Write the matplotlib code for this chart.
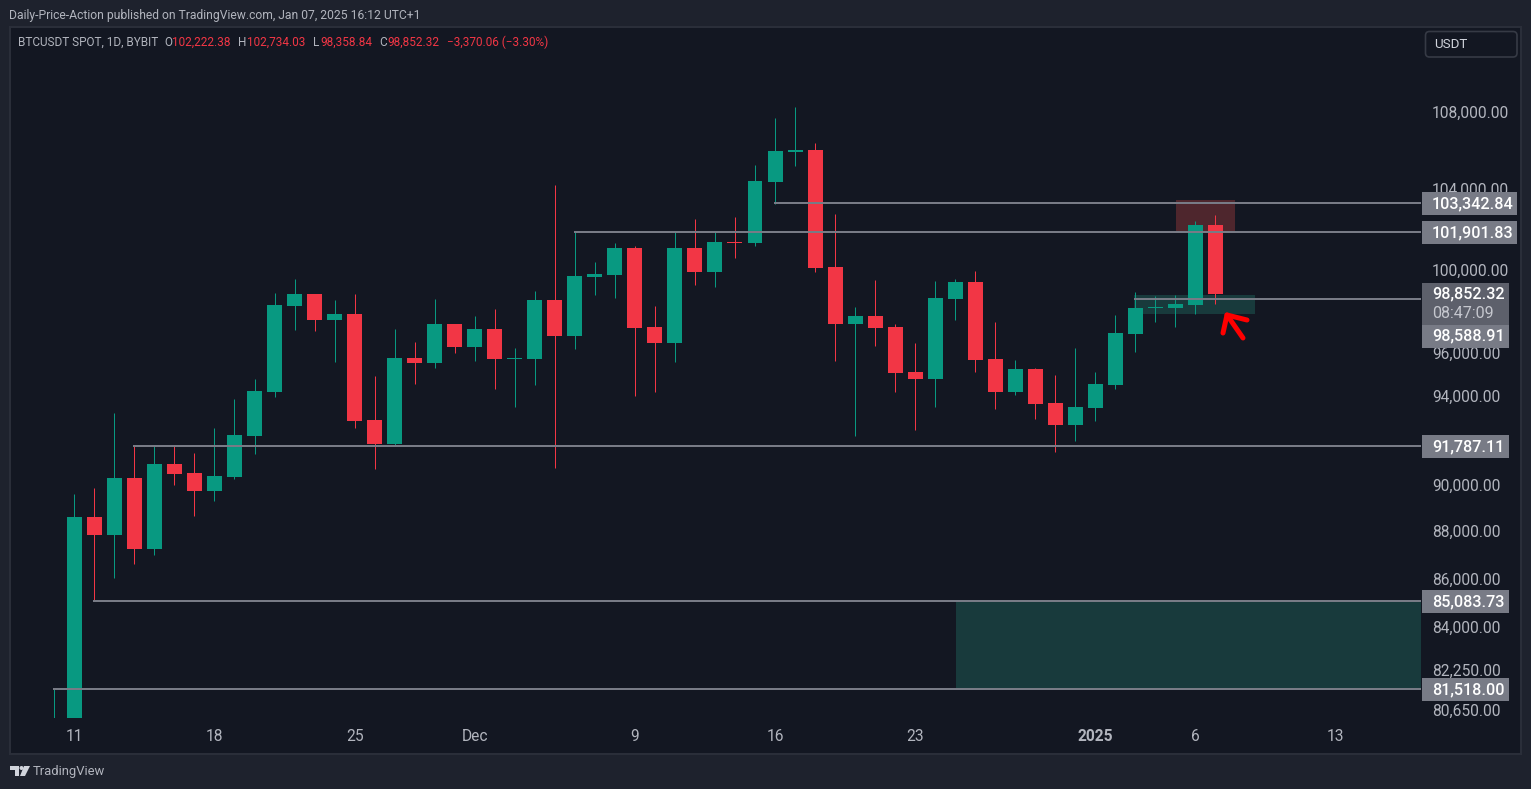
import numpy as np
import pandas as pd
import matplotlib
matplotlib.use("Agg")
import matplotlib.pyplot as plt
from matplotlib.patches import Rectangle, Polygon, FancyBboxPatch
from matplotlib.lines import Line2D
from matplotlib.ticker import NullLocator
from matplotlib.transforms import Affine2D

opens = [76700, 80250, 88661, 87886, 90363, 87283, 90980, 90583, 89790, 90407, 92230, 94227,
         98259, 98836, 97595, 97879, 92953, 91868, 95801, 95569, 97405, 96313, 97168, 95754,
         95754, 98544, 96836, 99662, 99759, 101074, 97263, 96503, 101074, 99905, 101374, 101323,
         104383, 105966, 106069, 100148, 97405, 97785, 97263, 95153, 94829, 98593, 99419, 95754,
         94227, 95291, 93721, 92727, 93496, 94551, 96931, 98164, 98164, 98307, 102222.38]
highs = [81518, 89657, 89922, 93269, 91787, 91823, 91787, 91465, 92592, 93904, 94829, 98885,
         99565, 98860, 98544, 98836, 94968, 97168, 96551, 98593, 97430, 97785, 98117, 96266,
         98982, 104230, 101900, 100391, 101323, 101174, 98259, 101900, 102519, 101900, 102618, 105302,
         107743, 108318, 106435, 102768, 98212, 99516, 97405, 96503, 99468, 99565, 99954, 97500,
         95708, 95338, 95014, 96266, 95153, 97832, 98933, 98738, 98787, 102419, 102734.03]
lows = [76500, 80200, 85083, 86064, 86652, 87030, 90054, 88704, 89350, 90318, 91421, 93996,
        97120, 97070, 95615, 92592, 90760, 91787, 94598, 95338, 96032, 95662, 94366, 93541,
        94551, 90804, 96218, 98787, 98641, 94042, 94227, 95615, 99273, 99176, 100585, 101174,
        103316, 105251, 99905, 95662, 92230, 96361, 94227, 92501, 93541, 97595, 95153, 93450,
        94088, 92998, 91509, 92004, 92908, 94366, 96078, 97500, 97263, 97879, 98358.84]
closes = [80250, 88661, 87886, 90363, 87283, 90980, 90539, 89790, 90451, 92275, 94274, 98307,
          98836, 97595, 97879, 92908, 91868, 95801, 95569, 97405, 96313, 97168, 95754, 95801,
          98544, 96836, 99711, 99808, 101074, 97215, 96503, 101074, 99905, 101374, 101323, 104434,
          106017, 106069, 100099, 97405, 97785, 97215, 95106, 94829, 98641, 99419, 95708, 94227,
          95291, 93676, 92727, 93541, 94598, 96978, 98164, 98212, 98354, 102222, 98852.32]

price_ticks = [108000, 104000, 100000, 96000, 94000, 90000, 88000, 86000, 84000, 82250, 80650]
time_ticks = [1, 8, 15, 21, 29, 36, 43, 52, 57, 64]
time_labels = ["11", "18", "25", "Dec", "9", "16", "23", "2025", "6", "13"]

levels = [103342.84, 101901.83, 98588.91, 91787.11, 85083.73, 81518.00]
level_starts = [36, 26, 54, 4, 2, 0]
current_price = 98852.32

W, H = 1531, 789
BG, PANE, BORDER = "#1e222d", "#131722", "#2a2e39"
UP, DOWN, LEVEL = "#089981", "#f23645", "#787b86"
TXT = "#b2b5be"
plt.rcParams["font.family"] = ["Roboto", "DejaVu Sans"]

fig = plt.figure(figsize=(W / 100, H / 100), dpi=100, facecolor=BG)


def px_rect(x0, y0, x1, y1, **kw):
    r = Rectangle((x0, H - y1), x1 - x0, y1 - y0, transform=None, **kw)
    fig.add_artist(r)
    return r


def px_text(x, y, s, **kw):
    kw.setdefault("va", "center")
    return fig.text(x / W, 1 - y / H, s, **kw)


px_rect(9, 26, 1522, 755, fc=BORDER, ec="none", zorder=-3)
px_rect(11, 28, 1520, 753, fc=PANE, ec="none", zorder=-2)

ax = fig.add_axes([11 / W, 1 - 718 / H, (1421 - 11) / W, (718 - 28) / H], facecolor=PANE)
for s in ax.spines.values():
    s.set_visible(False)

x = np.arange(len(closes))
dates = pd.date_range("2024-11-10", periods=len(closes))
opens, highs, lows, closes = map(np.array, (opens, highs, lows, closes))
colors = [UP if c >= o else DOWN for o, c in zip(opens, closes)]

ax.set_yscale("log")
ax.set_xlim((11 - 54.3) / 20.02, (1421 - 54.3) / 20.02)
ax.set_ylim(80375, 112557)

bar_w = 15 / 20.02
ax.vlines(x, lows, highs, colors=colors, lw=0.72, zorder=3)
ax.bar(x, np.abs(closes - opens), bottom=np.minimum(opens, closes), width=bar_w,
       color=colors, linewidth=0, zorder=4)

ax.set_yticks(price_ticks)
ax.set_yticklabels([f"{p:,.2f}" for p in price_ticks])
ax.yaxis.set_minor_locator(NullLocator())
ax.yaxis.tick_right()
ax.tick_params(axis="y", length=0, pad=8, labelsize=11.2, labelcolor=TXT)
ax.set_xticks(time_ticks)
ax.set_xticklabels(time_labels)
ax.tick_params(axis="x", length=0, pad=8, labelsize=11.2, labelcolor=TXT)
for lb in ax.get_xticklabels():
    if lb.get_text() == "2025":
        lb.set_fontweight("bold")
for t in ax.yaxis.get_major_ticks():
    t.label2.set_transform(t.label2.get_transform() + Affine2D().translate(0, 1.0))

# zones
ax.add_patch(Rectangle((56.03, 101901.83), 2.95, 103494 - 101901.83, fc="#4e262d", ec="none", zorder=1))
ax.add_patch(Rectangle((53.93, 97879), 6.04, 98787 - 97879, fc="#183a3c", ec="none", zorder=1))
ax.add_patch(Rectangle((45.04, 81518), 23.3, 85138 - 81518, fc="#183a3c", ec="none", zorder=1))

# horizontal levels
for lv, st in zip(levels, level_starts):
    ax.hlines(lv, st - 0.05, ax.get_xlim()[1], colors=LEVEL, lw=1.45, zorder=5)

# axis labels
fig.canvas.draw()


def ypx(price):
    return H - ax.transData.transform((0, price))[1]


boxes = [(103342.84, 1517), (101901.83, 1517), (91787.11, 1509), (85083.73, 1509), (81518.00, 1509)]
for p, xr in boxes:
    yc = ypx(p)
    px_rect(1422, yc - 11, xr, yc + 12, fc=LEVEL, ec="none", zorder=6)
    px_text(1432, yc + 1, f"{p:,.2f}", color="white", fontsize=11.6, zorder=7, fontweight="medium")

yc = ypx(current_price)
px_rect(1422, 283, 1509, 325, fc="#5d606b", ec="none", zorder=6)
px_text(1432, 294, f"{current_price:,.2f}", color="white", fontsize=11.6, zorder=7, fontweight="medium")
px_text(1432, 313, "08:47:09", color="#c5c7ce", fontsize=11.6, zorder=7)
px_rect(1422, 325, 1509, 348, fc=LEVEL, ec="none", zorder=6)
px_text(1432, 336, "98,588.91", color="white", fontsize=11.6, zorder=7, fontweight="medium")

# arrow
arrow_kw = dict(color="#ff0000", lw=3.6, solid_capstyle="round", solid_joinstyle="round", transform=None, zorder=8)
fig.add_artist(Line2D([1243, 1227], [H - 338, H - 315], **arrow_kw))
fig.add_artist(Line2D([1223, 1227, 1247], [H - 333, H - 315, H - 320], **arrow_kw))

# header and legend
px_text(9, 15, "Daily-Price-Action published on TradingView.com, Jan 07, 2025 16:12 UTC+1",
        color=TXT, fontsize=8.7)
legend = [(18, "BTCUSDT SPOT, 1D, BYBIT", TXT), (164, "O", TXT), (172, "102,222.38", DOWN),
          (238, "H", TXT), (247, "102,734.03", DOWN), (313, "L", TXT), (320, "98,358.84", DOWN),
          (379, "C", TXT), (387, "98,852.32", DOWN), (447, "\u22123,370.06 (\u22123.30%)", DOWN)]
for lx, s, col in legend:
    px_text(lx, 42, s, color=col, fontsize=8.5)

# currency button
fig.add_artist(FancyBboxPatch((1425.5, H - 57), 91.5, 25.5, boxstyle="round,pad=0,rounding_size=4",
                              fc=PANE, ec="#363a45", lw=1.2, transform=None, zorder=6))
px_text(1434, 44.5, "USDT", color="#d1d4dc", fontsize=9.6, zorder=7)

# logo
logo = dict(fc="#d1d4dc", ec="none", transform=None, zorder=6)
fig.add_artist(Polygon([(10, H - 766), (19, H - 766), (19, H - 776), (15, H - 776), (15, H - 770), (10, H - 770)], **logo))
fig.add_artist(Polygon([(24, H - 766), (30, H - 766), (25, H - 776), (20, H - 776)], **logo))
fig.add_artist(plt.Circle((21.5, H - 768), 2, **logo))
px_text(33, 771.5, "TradingView", color="#b2b5be", fontsize=9.4)

fig.savefig("out.png", dpi=100, facecolor=BG)
